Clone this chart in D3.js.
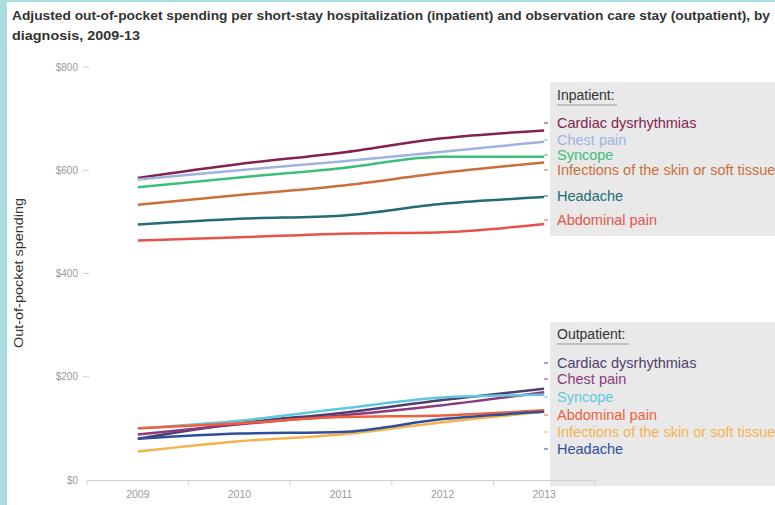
<!DOCTYPE html>
<html>
<head>
<meta charset="utf-8">
<script src="https://cdn.jsdelivr.net/npm/d3@7"></script>
<style>
  body { margin: 0; background: #fff; }
  svg { display: block; }
</style>
</head>
<body>
<svg></svg>
<script>
// data
const years = ["2009", "2010", "2011", "2012", "2013"]
const yTicks = [0, 200, 400, 600, 800]

const inpatientNames = ["Cardiac dysrhythmias", "Chest pain", "Syncope", "Infections of the skin or soft tissue", "Headache", "Abdominal pain"]
const inpatientValues = [
    [585, 612, 634, 662, 677],
    [582, 600, 617, 636, 655],
    [567, 586, 604, 626, 626],
    [533, 552, 570, 595, 615],
    [495, 506, 512, 535, 548],
    [464, 470, 477, 480, 496]
]
const inpatientColors = ["#84214f", "#9fb3e2", "#3cbf7c", "#c9703c", "#236b76", "#e6534c"]

const outpatientNames = ["Cardiac dysrhythmias", "Chest pain", "Syncope", "Abdominal pain", "Infections of the skin or soft tissue", "Headache"]
const outpatientValues = [
    [80, 110, 130, 155, 177],
    [88, 108, 125, 145, 170],
    [100, 115, 138, 160, 165],
    [100, 110, 122, 125, 135],
    [55, 75, 88, 112, 132],
    [80, 90, 93, 118, 132]
]
const outpatientColors = ["#4e3e6e", "#8c3a7c", "#5ec8e2", "#f0603c", "#f4b34c", "#2e4f9c"]

const width = 775
const height = 505

const svg = d3.select('svg')
    .attr('width', width)
    .attr('height', height)
    .style('font-family', '"Liberation Sans", Arial, sans-serif')

// teal frame on the left / top
svg.append('rect').attr('x', 0).attr('y', 0).attr('width', 7).attr('height', height).attr('fill', '#a9dde0')
svg.append('rect').attr('x', 0).attr('y', 0).attr('width', width).attr('height', 2).attr('fill', '#a9dde0')

// title
const title = svg.append('g').attr('fill', '#333').style('font-weight', 'bold').style('font-size', '12.5px')
title.append('text').attr('x', 12).attr('y', 20)
    .attr('textLength', 758).attr('lengthAdjust', 'spacingAndGlyphs')
    .text('Adjusted out-of-pocket spending per short-stay hospitalization (inpatient) and observation care stay (outpatient), by')
title.append('text').attr('x', 12).attr('y', 40)
    .attr('textLength', 128).attr('lengthAdjust', 'spacingAndGlyphs')
    .text('diagnosis, 2009-13')

const xScale = d3.scaleBand()
    .domain(years)
    .range([87, 595])

const xPos = d => xScale(d) + xScale.bandwidth() / 2

const yScale = d3.scaleLinear()
    .domain([0, 800])
    .range([480, 67])

// legend boxes (behind everything)
const boxes = [
    { top: 82, bottom: 236 },
    { top: 322, bottom: 486 }
]
svg.selectAll('.legend-box')
    .data(boxes)
    .enter()
    .append('rect')
    .attr('class', 'legend-box')
    .attr('x', 550)
    .attr('y', d => d.top)
    .attr('width', width - 550)
    .attr('height', d => d.bottom - d.top)
    .attr('fill', '#e9e9e9')

// y axis - just labels and small ticks
const yAxisG = svg.append('g')
yAxisG.selectAll('text')
    .data(yTicks)
    .enter()
    .append('text')
    .attr('x', 78)
    .attr('y', d => yScale(d))
    .attr('dy', '0.35em')
    .attr('text-anchor', 'end')
    .attr('fill', '#9a9a9a')
    .style('font-size', '10px')
    .text(d => '$' + d)
yAxisG.selectAll('line')
    .data(yTicks.filter(d => d > 0))
    .enter()
    .append('line')
    .attr('x1', 83).attr('x2', 89)
    .attr('y1', d => yScale(d)).attr('y2', d => yScale(d))
    .attr('stroke', '#cfcfcf')

svg.append('text')
    .attr('transform', 'translate(23, 273) rotate(-90)')
    .attr('text-anchor', 'middle')
    .attr('fill', '#333')
    .style('font-size', '12.5px')
    .attr('textLength', 150).attr('lengthAdjust', 'spacingAndGlyphs')
    .text('Out-of-pocket spending')

// x axis
const xAxis = d3.axisBottom(xScale).tickSize(0).tickPadding(11)
const xAxisG = svg.append('g')
    .attr('transform', 'translate(0, 480)')
    .call(xAxis)
xAxisG.select('.domain').attr('stroke', '#d0d0d0')
xAxisG.selectAll('text').attr('fill', '#9a9a9a').style('font-size', '10.5px').style('font-family', 'inherit')
xAxisG.selectAll('.band-tick')
    .data(years.concat(['end']))
    .enter()
    .append('line')
    .attr('class', 'band-tick')
    .attr('x1', (d, i) => i < years.length ? xScale(d) : xScale.range()[1])
    .attr('x2', (d, i) => i < years.length ? xScale(d) : xScale.range()[1])
    .attr('y1', 0).attr('y2', 5)
    .attr('stroke', '#d0d0d0')

const line = d3.line()
    .x((d, i) => xPos(years[i]))
    .y(d => yScale(d))
    .curve(d3.curveMonotoneX)

const drawGroup = (names, values, colors, header, headerY, labelYs) => {
    const g = svg.append('g')
    g.selectAll('path')
        .data(values)
        .enter()
        .append('path')
        .attr('d', d => line(d))
        .attr('fill', 'none')
        .attr('stroke', (d, i) => colors[i])
        .attr('stroke-width', 2.5)

    g.append('text')
        .attr('x', 557).attr('y', headerY)
        .attr('dy', '0.35em')
        .attr('fill', '#333')
        .style('font-size', '14px')
        .text(header)
    g.append('line')
        .attr('x1', 557).attr('x2', 557 + (header === 'Inpatient:' ? 60 : 72))
        .attr('y1', headerY + 10).attr('y2', headerY + 10)
        .attr('stroke', '#999')
        .attr('stroke-width', 1)

    g.selectAll('.lab')
        .data(names)
        .enter()
        .append('text')
        .attr('class', 'lab')
        .attr('x', 557)
        .attr('y', (d, i) => labelYs[i])
        .attr('dy', '0.35em')
        .attr('fill', (d, i) => colors[i])
        .style('font-size', '14.5px')
        .text(d => d)

    // little connectors from the line ends
    g.selectAll('.tick-end')
        .data(values)
        .enter()
        .append('line')
        .attr('class', 'tick-end')
        .attr('x1', 544).attr('x2', 548)
        .attr('y1', (d, i) => labelYs[i]).attr('y2', (d, i) => labelYs[i])
        .attr('stroke', (d, i) => colors[i])
}

drawGroup(inpatientNames, inpatientValues, inpatientColors, 'Inpatient:', 95, [123, 140, 155, 170, 196, 220])
drawGroup(outpatientNames, outpatientValues, outpatientColors, 'Outpatient:', 334, [363, 379, 397, 415, 432, 449])
</script>
</body>
</html>
